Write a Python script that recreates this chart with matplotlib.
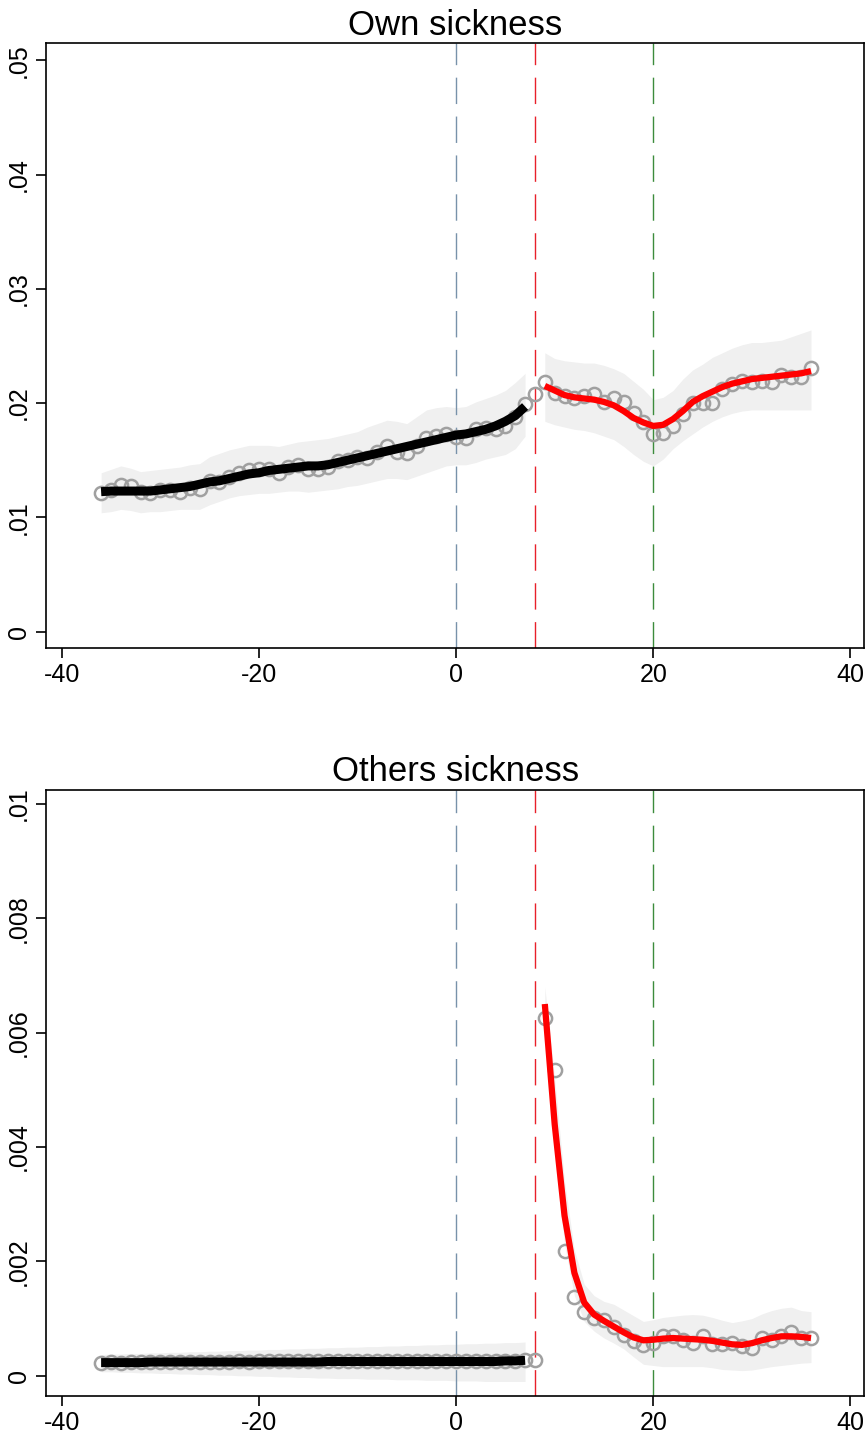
import matplotlib
matplotlib.use("Agg")
import matplotlib.pyplot as plt

plt.rcParams['font.family'] = ['Liberation Sans', 'DejaVu Sans']

# x positions (months relative to event)
x_left = list(range(-36, 9))     # -36 .. 8 (scatter, left)
x_right = list(range(9, 37))     # 9 .. 36 (scatter, right)
fit_x_left = list(range(-36, 8))  # -36 .. 7
fit_x_right = list(range(9, 37))

# ---- Own sickness ----
own_pts_left = [0.01215, 0.0124, 0.0128, 0.0127, 0.0122, 0.0121, 0.0124, 0.0124, 0.0122, 0.0126,
                0.0125, 0.0132, 0.0131, 0.0135, 0.0139, 0.0141, 0.0142, 0.0142, 0.0139, 0.0144,
                0.0146, 0.0142, 0.0142, 0.0144, 0.0149, 0.0150, 0.0153, 0.0152, 0.0157, 0.0162,
                0.0157, 0.0156, 0.0162, 0.0169, 0.0171, 0.0173, 0.0170, 0.0169, 0.0177, 0.0178,
                0.0177, 0.0180, 0.0188, 0.0199, 0.0208]
own_pts_right = [0.0218, 0.0209, 0.0206, 0.0204, 0.0206, 0.0208, 0.0201, 0.0204, 0.0201, 0.0191,
                 0.0183, 0.0173, 0.0174, 0.0180, 0.0190, 0.0200, 0.0200, 0.0200, 0.0212, 0.0217,
                 0.0219, 0.0218, 0.0219, 0.0218, 0.0225, 0.0223, 0.0223, 0.0231]
own_fit_left = [0.01225, 0.0123, 0.0123, 0.0123, 0.0123, 0.0123, 0.0124, 0.0125, 0.0126, 0.0127,
                0.0129, 0.0131, 0.0132, 0.0134, 0.0136, 0.0138, 0.0139, 0.0141, 0.0142, 0.0143,
                0.0144, 0.0145, 0.0145, 0.0146, 0.0148, 0.0150, 0.0152, 0.0154, 0.0156, 0.0158,
                0.0160, 0.0162, 0.0164, 0.0166, 0.0168, 0.0170, 0.0172, 0.0173, 0.0175, 0.0177,
                0.0180, 0.0184, 0.0189, 0.0197]
own_hi_left = [0.0139, 0.0142, 0.0145, 0.0143, 0.0140, 0.0141, 0.0142, 0.0143, 0.0144, 0.0146,
               0.0147, 0.0153, 0.0156, 0.0159, 0.0161, 0.0163, 0.0163, 0.0163, 0.0162, 0.0164,
               0.0166, 0.0167, 0.0168, 0.0169, 0.0171, 0.0173, 0.0175, 0.0179, 0.0182, 0.0185,
               0.0184, 0.0182, 0.0188, 0.0194, 0.0196, 0.0197, 0.0196, 0.0197, 0.0201, 0.0204,
               0.0207, 0.0211, 0.0218, 0.0226]
own_lo_left = [0.0104, 0.0105, 0.0107, 0.0106, 0.0104, 0.0105, 0.0105, 0.0106, 0.0107, 0.0107,
               0.0107, 0.0111, 0.0114, 0.0117, 0.0119, 0.0120, 0.0121, 0.0121, 0.0122, 0.0123,
               0.0123, 0.0122, 0.0123, 0.0124, 0.0125, 0.0127, 0.0128, 0.0130, 0.0132, 0.0134,
               0.0134, 0.0133, 0.0136, 0.0139, 0.0142, 0.0145, 0.0146, 0.0146, 0.0148, 0.0151,
               0.0153, 0.0155, 0.0160, 0.0171]
own_fit_right = [0.0215, 0.0211, 0.0207, 0.0205, 0.0204, 0.0203, 0.0201, 0.0198, 0.0193, 0.0187,
                 0.0183, 0.0180, 0.0181, 0.0186, 0.0193, 0.0201, 0.0206, 0.0210, 0.0214, 0.0217,
                 0.0219, 0.0221, 0.0222, 0.0223, 0.0224, 0.0225, 0.0226, 0.0228]
own_hi_right = [0.0244, 0.0239, 0.0237, 0.0236, 0.0235, 0.0235, 0.0233, 0.0230, 0.0226, 0.0219,
                0.0212, 0.0203, 0.0205, 0.0211, 0.0221, 0.0229, 0.0234, 0.0240, 0.0244, 0.0248,
                0.0251, 0.0253, 0.0253, 0.0254, 0.0255, 0.0258, 0.0261, 0.0264]
own_lo_right = [0.0184, 0.0181, 0.0179, 0.0177, 0.0176, 0.0174, 0.0171, 0.0168, 0.0162, 0.0155,
                0.0149, 0.0145, 0.0151, 0.0160, 0.0167, 0.0173, 0.0179, 0.0184, 0.0188, 0.0191,
                0.0193, 0.0194, 0.0194, 0.0194, 0.0194, 0.0194, 0.0194, 0.0194]

# ---- Others sickness ----
oth_pts_left = [0.00023, 0.00024, 0.00023, 0.00024, 0.00024, 0.00024, 0.00024, 0.00024, 0.00024, 0.00024,
                0.00024, 0.00024, 0.00024, 0.00024, 0.00025, 0.00024, 0.00025, 0.00025, 0.00025, 0.00025,
                0.00025, 0.00025, 0.00025, 0.00025, 0.00025, 0.00025, 0.00025, 0.00025, 0.00025, 0.00025,
                0.00025, 0.00025, 0.00025, 0.00025, 0.00025, 0.00026, 0.00025, 0.00025, 0.00026, 0.00026,
                0.00026, 0.00026, 0.00026, 0.00027, 0.00028]
oth_pts_right = [0.00625, 0.00535, 0.00219, 0.00138, 0.00112, 0.00101, 0.00097, 0.00086, 0.00072, 0.00060,
                 0.00054, 0.00058, 0.00069, 0.00070, 0.00063, 0.00058, 0.00070, 0.00056, 0.00056, 0.00058,
                 0.00052, 0.00048, 0.00066, 0.00062, 0.00069, 0.00076, 0.00066, 0.00066]
oth_fit_left = [0.00023, 0.00023, 0.00023, 0.00023, 0.00023, 0.00024, 0.00024, 0.00024, 0.00024, 0.00024,
                0.00024, 0.00024, 0.00024, 0.00024, 0.00024, 0.00024, 0.00024, 0.00024, 0.00024, 0.00024,
                0.00024, 0.00024, 0.00024, 0.00025, 0.00025, 0.00025, 0.00025, 0.00025, 0.00025, 0.00025,
                0.00025, 0.00025, 0.00025, 0.00025, 0.00025, 0.00025, 0.00025, 0.00025, 0.00025, 0.00025,
                0.00025, 0.00026, 0.00026, 0.00027]
oth_hi_left = [0.00037, 0.00038, 0.00038, 0.00039, 0.00039, 0.00040, 0.00040, 0.00041, 0.00041, 0.00042,
               0.00042, 0.00043, 0.00043, 0.00044, 0.00044, 0.00045, 0.00045, 0.00046, 0.00046, 0.00047,
               0.00047, 0.00048, 0.00048, 0.00049, 0.00049, 0.00050, 0.00050, 0.00051, 0.00051, 0.00052,
               0.00052, 0.00053, 0.00053, 0.00054, 0.00054, 0.00055, 0.00055, 0.00056, 0.00056, 0.00057,
               0.00057, 0.00058, 0.00058, 0.00059]
oth_lo_left = [0.00007, 0.00007, 0.00006, 0.00006, 0.00005, 0.00005, 0.00004, 0.00004, 0.00003, 0.00003,
               0.00002, 0.00002, 0.00001, 0.00001, 0.00000, 0.00000, -0.00001, -0.00001, -0.00002, -0.00002,
               -0.00003, -0.00003, -0.00004, -0.00004, -0.00005, -0.00005, -0.00005, -0.00006, -0.00006, -0.00006,
               -0.00007, -0.00007, -0.00007, -0.00008, -0.00008, -0.00008, -0.00009, -0.00009, -0.00009, -0.00010,
               -0.00010, -0.00010, -0.00010, -0.00010]
oth_fit_right = [0.0065, 0.0044, 0.0028, 0.0018, 0.00128, 0.00107, 0.00096, 0.00086, 0.00076, 0.00067,
                 0.00062, 0.00063, 0.00065, 0.00066, 0.00065, 0.00064, 0.00063, 0.00061, 0.00058, 0.00055,
                 0.00054, 0.00057, 0.00062, 0.00066, 0.00069, 0.00069, 0.00068, 0.00066]
oth_hi_right = [0.0068, 0.0052, 0.0034, 0.0022, 0.0016, 0.0014, 0.0013, 0.00125, 0.00115, 0.00105,
                0.00095, 0.00098, 0.00102, 0.00104, 0.00106, 0.00107, 0.00106, 0.00102, 0.00097, 0.00093,
                0.00096, 0.00100, 0.00108, 0.00114, 0.00118, 0.00120, 0.00114, 0.00112]
oth_lo_right = [0.0062, 0.0039, 0.0023, 0.0014, 0.00095, 0.00078, 0.00066, 0.00057, 0.00047, 0.00033,
                0.00020, 0.00018, 0.00016, 0.00016, 0.00016, 0.00016, 0.00016, 0.00014, 0.00011, 0.00010,
                0.00009, 0.00010, 0.00013, 0.00016, 0.00018, 0.00020, 0.00022, 0.00023]

vlines = [(0, '#7892aa'), (8, '#e8202a'), (20, '#3c8c3c')]

fig = plt.figure(figsize=(8.66, 14.36), dpi=100)
ax1 = fig.add_axes([0.053, 0.549, 0.945, 0.421])
ax2 = fig.add_axes([0.053, 0.028, 0.945, 0.422])

panels = [
    (ax1, "Own sickness", own_pts_left, own_pts_right, own_fit_left, own_fit_right,
     own_lo_left, own_hi_left, own_lo_right, own_hi_right,
     (-0.0014, 0.0515), [0, 0.01, 0.02, 0.03, 0.04, 0.05], ["0", ".01", ".02", ".03", ".04", ".05"]),
    (ax2, "Others sickness", oth_pts_left, oth_pts_right, oth_fit_left, oth_fit_right,
     oth_lo_left, oth_hi_left, oth_lo_right, oth_hi_right,
     (-0.00035, 0.010245), [0, 0.002, 0.004, 0.006, 0.008, 0.01], ["0", ".002", ".004", ".006", ".008", ".01"]),
]

for (ax, title, pl, pr, fl, fr, lol, hil, lor, hir, ylim, yt, ytl) in panels:
    # confidence bands
    ax.fill_between(fit_x_left, lol, hil, color='#f0f0f0', lw=0, zorder=1)
    ax.fill_between(fit_x_right, lor, hir, color='#f0f0f0', lw=0, zorder=1)
    # reference lines
    for xv, c in vlines:
        ax.axvline(xv, color=c, lw=1.0, dashes=(19, 9), zorder=2)
    # binned means
    ax.plot(x_left, pl, 'o', ms=9.5, mfc='none', mec='#a0a0a0', mew=1.8, zorder=3)
    ax.plot(x_right, pr, 'o', ms=9.5, mfc='none', mec='#a0a0a0', mew=1.8, zorder=3)
    # fitted lines
    ax.plot(fit_x_left, fl, color='black', lw=6.5, solid_capstyle='butt', zorder=4)
    ax.plot(fit_x_right, fr, color='red', lw=4.5, solid_capstyle='butt', zorder=4)

    ax.set_xlim(-41.6, 41.4)
    ax.set_ylim(*ylim)
    ax.set_xticks([-40, -20, 0, 20, 40])
    ax.set_xticklabels(["-40", "-20", "0", "20", "40"])
    ax.set_yticks(yt)
    ax.set_yticklabels(ytl, rotation=90, va='center')
    ax.tick_params(axis='both', direction='out', length=7, width=1.2, labelsize=18, pad=4)
    for s in ax.spines.values():
        s.set_linewidth(1.2)
    ax.set_title(title, fontsize=25, pad=6)

fig.savefig('out.png', dpi=100)
